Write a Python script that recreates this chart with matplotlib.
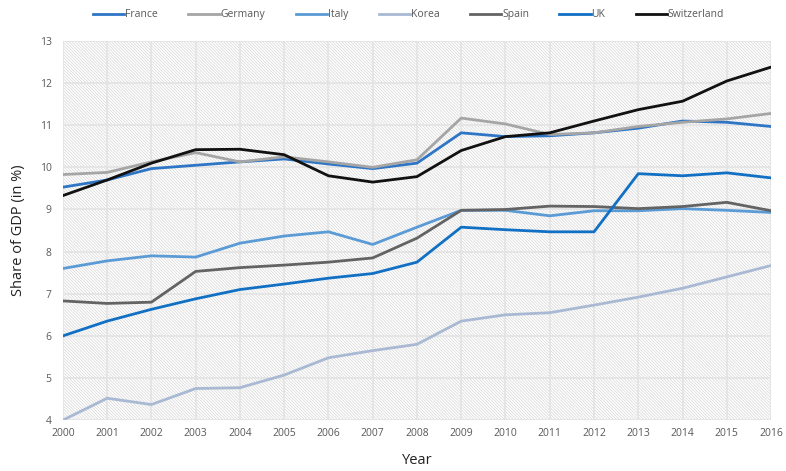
import matplotlib
matplotlib.use("Agg")
import matplotlib.pyplot as plt
from matplotlib.patches import Rectangle

plt.rcParams['font.family'] = ['Open Sans', 'DejaVu Sans']
plt.rcParams['hatch.color'] = '#d6d6d6'
plt.rcParams['hatch.linewidth'] = 0.5

# Donnees
years = list(range(2000, 2017))
france = [9.53, 9.70, 9.97, 10.05, 10.13, 10.20, 10.08, 9.97, 10.10, 10.82, 10.73,
          10.75, 10.82, 10.93, 11.10, 11.07, 10.97]
germany = [9.83, 9.88, 10.13, 10.35, 10.13, 10.25, 10.13, 10.00, 10.18, 11.17, 11.03,
           10.78, 10.82, 10.97, 11.07, 11.15, 11.28]
italy = [7.60, 7.78, 7.90, 7.87, 8.20, 8.37, 8.47, 8.17, 8.58, 8.98, 8.98,
         8.85, 8.97, 8.97, 9.02, 8.98, 8.93]
korea = [4.00, 4.52, 4.37, 4.75, 4.77, 5.07, 5.48, 5.65, 5.80, 6.35, 6.50,
         6.55, 6.73, 6.92, 7.13, 7.40, 7.67]
spain = [6.83, 6.77, 6.80, 7.53, 7.62, 7.68, 7.75, 7.85, 8.32, 8.98, 9.00,
         9.08, 9.07, 9.02, 9.07, 9.17, 8.97]
uk = [6.00, 6.35, 6.63, 6.88, 7.10, 7.23, 7.37, 7.48, 7.75, 8.58, 8.52,
      8.47, 8.47, 9.85, 9.80, 9.87, 9.75]
switzerland = [9.33, 9.70, 10.10, 10.42, 10.43, 10.30, 9.80, 9.65, 9.78, 10.40, 10.73,
               10.82, 11.10, 11.37, 11.57, 12.05, 12.38]

series = [
    ("France", france, '#2e75c6'),
    ("Germany", germany, '#a5a5a5'),
    ("Italy", italy, '#5b9bd5'),
    ("Korea", korea, '#a9b9d3'),
    ("Spain", spain, '#636363'),
    ("UK", uk, '#1170c4'),
    ("Switzerland", switzerland, '#111111'),
]

fig = plt.figure(figsize=(7.86, 4.71), dpi=100)
ax = fig.add_axes([0.080, 0.108, 0.901, 0.805])

# fond hachure fin
ax.add_patch(Rectangle((0, 0), 1, 1, transform=ax.transAxes, facecolor='white',
                       hatch='\\' * 11, edgecolor='#d6d6d6', linewidth=0, zorder=0))

for name, vals, col in series:
    ax.plot(years, vals, color=col, linewidth=2, label=name, zorder=3)

ax.set_xlim(2000, 2016)
ax.set_ylim(4, 13)
ax.set_xticks(years)
ax.set_yticks(range(4, 14))
ax.grid(True, color='#e3e3e3', linewidth=1.2, zorder=1)
ax.set_axisbelow(True)
for s in ax.spines.values():
    s.set_visible(False)
ax.tick_params(length=0, colors='#595959', labelsize=7.5, pad=8)
ax.tick_params(axis='x', pad=6)

ax.set_xlabel("Year", fontsize=10.5, color='#222222', labelpad=10)
ax.set_ylabel("Share of GDP (in %)", fontsize=10.5, color='#222222', labelpad=10)

fig.legend(loc='upper center', bbox_to_anchor=(0.52, 1.0), ncol=7, frameon=False,
           fontsize=7.5, handlelength=3.0, handletextpad=0.1, columnspacing=2.9,
           labelcolor='#595959')

plt.savefig("out.png", dpi=100)
